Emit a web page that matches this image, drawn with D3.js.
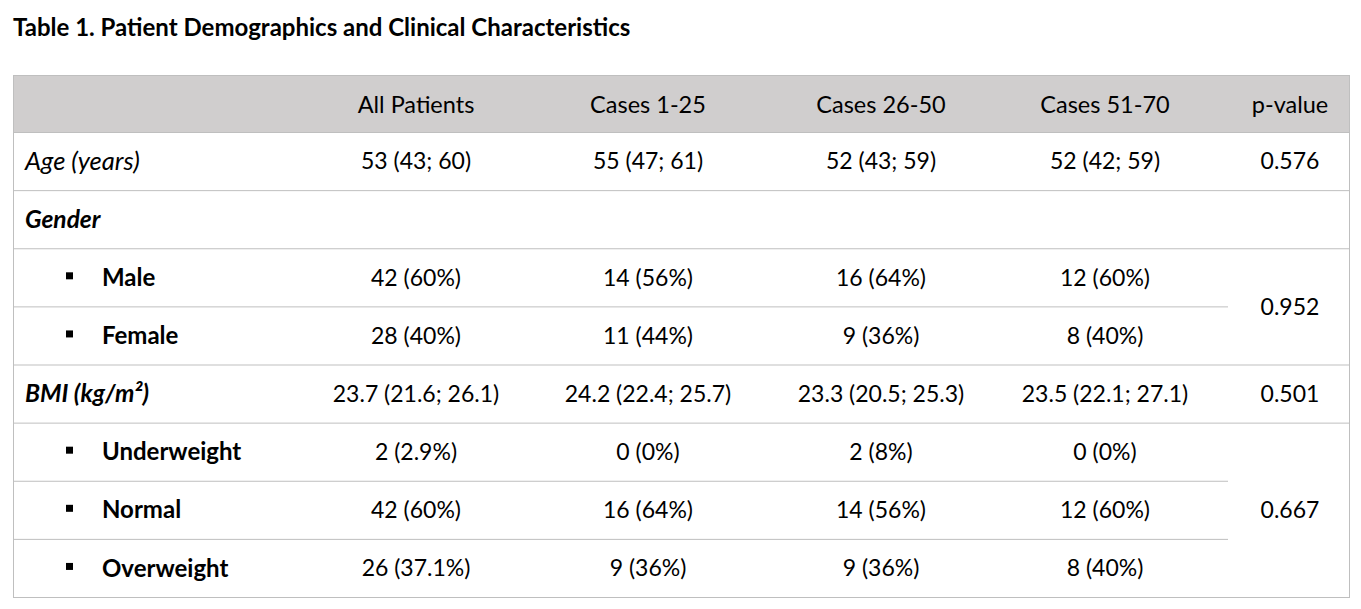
<!DOCTYPE html>
<html>
<head>
<meta charset="utf-8">
<script src="https://cdn.jsdelivr.net/npm/d3@7"></script>
<style>
  body { margin: 0; background: #fff; }
  text { font-family: Lato, "Open Sans", sans-serif; fill: #000; }
</style>
</head>
<body>
<div id="chart"></div>
<script>
var title = "Table 1. Patient Demographics and Clinical Characteristics";

var columns = ["All Patients", "Cases 1-25", "Cases 26-50", "Cases 51-70", "p-value"];

var rowLabels = ["Age (years)", "Gender", "Male", "Female", "BMI (kg/m²)", "Underweight", "Normal", "Overweight"];
// kind: "var" = italic variable, "group" = bold italic heading, "sub" = bulleted bold sub-category
var rowKinds = ["var", "group", "sub", "sub", "group", "sub", "sub", "sub"];

var allPatients = ["53 (43; 60)", "", "42 (60%)", "28 (40%)", "23.7 (21.6; 26.1)", "2 (2.9%)", "42 (60%)", "26 (37.1%)"];
var cases1to25  = ["55 (47; 61)", "", "14 (56%)", "11 (44%)", "24.2 (22.4; 25.7)", "0 (0%)", "16 (64%)", "9 (36%)"];
var cases26to50 = ["52 (43; 59)", "", "16 (64%)", "9 (36%)", "23.3 (20.5; 25.3)", "2 (8%)", "14 (56%)", "9 (36%)"];
var cases51to70 = ["52 (42; 59)", "", "12 (60%)", "8 (40%)", "23.5 (22.1; 27.1)", "0 (0%)", "12 (60%)", "8 (40%)"];

// p-values span one or more rows (merged cells)
var pValues = ["0.576", "0.952", "0.501", "0.667"];
var pFirstRow = [0, 2, 4, 5];
var pLastRow  = [0, 3, 4, 7];

var width = 1361, height = 609;
var tableLeft = 13, tableRight = 1349, headTop = 75, headBottom = 132, tableBottom = 597;
var pColLeft = 1228;

var svg = d3.select("#chart")
  .append("svg")
    .attr("width", width)
    .attr("height", height);

var y = d3.scaleBand()
    .domain(d3.range(rowLabels.length))
    .range([headBottom, tableBottom]);

var x = d3.scaleOrdinal()
    .domain(columns)
    .range([416, 648, 881, 1105, 1290]);

var series = [allPatients, cases1to25, cases26to50, cases51to70];

var labelSize = { "var": "25.5px", "group": "24.5px", "sub": "24px" };

svg.append("text")
    .attr("x", tableLeft)
    .attr("y", 36)
    .style("font-size", "24px")
    .style("font-weight", "bold")
    .text(title);

// header band
svg.append("rect")
    .attr("x", tableLeft)
    .attr("y", headTop)
    .attr("width", tableRight - tableLeft)
    .attr("height", headBottom - headTop)
    .attr("fill", "#d0cece");

svg.selectAll(".head")
  .data(columns)
  .enter().append("text")
    .attr("class", "head")
    .attr("x", function(d) { return x(d); })
    .attr("y", (headTop + headBottom) / 2 + 1)
    .attr("dy", "0.36em")
    .attr("text-anchor", "middle")
    .style("font-size", "23.5px")
    .text(function(d) { return d; });

// separator at the top of row i is shortened when rows i-1 and i share a p-value cell
function inMerge(i) {
  for (var k = 0; k < pValues.length; k++) {
    if (i > pFirstRow[k] && i <= pLastRow[k]) return true;
  }
  return false;
}

var lineColor = "#bfbfbf";

svg.selectAll(".sep")
  .data(d3.range(rowLabels.length))
  .enter().append("line")
    .attr("class", "sep")
    .attr("x1", tableLeft)
    .attr("x2", function(i) { return inMerge(i) ? pColLeft : tableRight; })
    .attr("y1", function(i) { return y(i) + 0.5; })
    .attr("y2", function(i) { return y(i) + 0.5; })
    .attr("stroke", lineColor);

svg.append("line")
    .attr("x1", tableLeft).attr("x2", tableRight)
    .attr("y1", headTop + 0.5).attr("y2", headTop + 0.5)
    .attr("stroke", lineColor);
svg.append("line")
    .attr("x1", tableLeft).attr("x2", tableRight)
    .attr("y1", tableBottom + 0.5).attr("y2", tableBottom + 0.5)
    .attr("stroke", lineColor);
[tableLeft, tableRight].forEach(function(xx) {
  svg.append("line")
      .attr("x1", xx + 0.5).attr("x2", xx + 0.5)
      .attr("y1", headTop).attr("y2", tableBottom + 1)
      .attr("stroke", lineColor);
});

// row labels
svg.selectAll(".label")
  .data(rowLabels)
  .enter().append("text")
    .attr("class", "label")
    .attr("x", function(d, i) { return rowKinds[i] === "sub" ? 102 : 25; })
    .attr("y", function(d, i) { return y(i) + y.bandwidth() / 2; })
    .attr("dy", "0.36em")
    .style("font-size", function(d, i) { return labelSize[rowKinds[i]]; })
    .style("font-style", function(d, i) { return rowKinds[i] === "sub" ? "normal" : "italic"; })
    .style("font-weight", function(d, i) { return rowKinds[i] === "var" ? "normal" : "bold"; })
    .text(function(d) { return d; });

svg.selectAll(".bullet")
  .data(d3.range(rowLabels.length).filter(function(i) { return rowKinds[i] === "sub"; }))
  .enter().append("rect")
    .attr("class", "bullet")
    .attr("x", 66)
    .attr("y", function(i) { return y(i) + y.bandwidth() / 2 - 5; })
    .attr("width", 7)
    .attr("height", 7)
    .attr("fill", "#000");

// value cells
series.forEach(function(values, c) {
  svg.selectAll(".cell" + c)
    .data(values)
    .enter().append("text")
      .attr("class", "cell" + c)
      .attr("x", x(columns[c]))
      .attr("y", function(d, i) { return y(i) + y.bandwidth() / 2; })
      .attr("dy", "0.36em")
      .attr("text-anchor", "middle")
      .style("font-size", "23px")
      .text(function(d) { return d; });
});

svg.selectAll(".pval")
  .data(pValues)
  .enter().append("text")
    .attr("class", "pval")
    .attr("x", x("p-value"))
    .attr("y", function(d, k) { return (y(pFirstRow[k]) + y(pLastRow[k]) + y.bandwidth()) / 2; })
    .attr("dy", "0.36em")
    .attr("text-anchor", "middle")
    .style("font-size", "23px")
    .text(function(d) { return d; });
</script>
</body>
</html>
